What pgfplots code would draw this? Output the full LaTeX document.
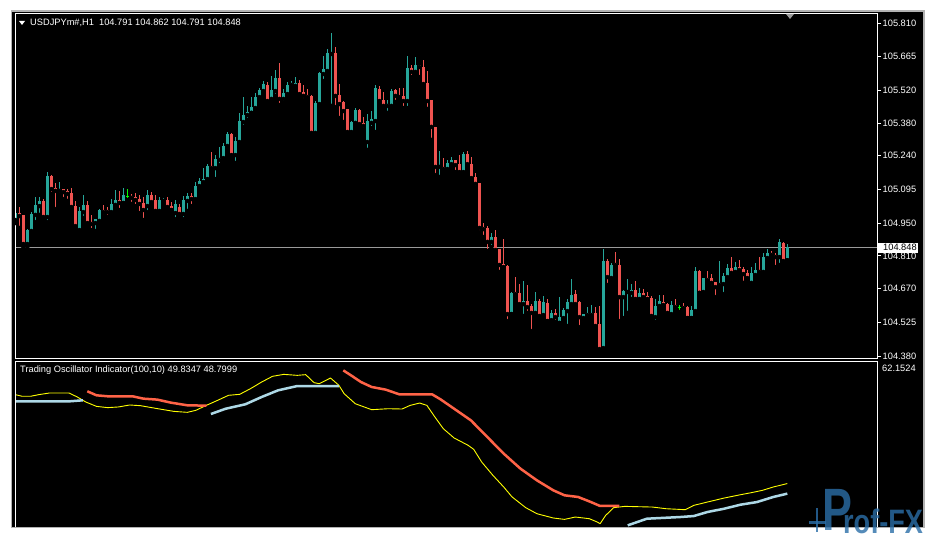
\documentclass[border=0pt]{standalone}
\usepackage{pgfplots}
\pgfplotsset{compat=1.18}
\usepackage{pgfplotstable}
\usepackage{fontspec}
\setmainfont{Liberation Sans}

\definecolor{bull}{HTML}{26A69A}
\definecolor{bear}{HTML}{EF5350}
\definecolor{doji}{HTML}{00FF00}
\definecolor{lvl}{HTML}{9A9A9A}
\definecolor{oscred}{HTML}{FF6347}
\definecolor{oscblue}{HTML}{ADD8E6}
\definecolor{oscyel}{HTML}{FFFF00}
\definecolor{logo}{HTML}{2B6FA8}
\newcommand\tf{\fontsize{9.3}{11}\selectfont}

% candles: i open high low close
\pgfplotstableread{
i o h l c
0 104.964 105.007 104.951 104.994
3 104.861 104.925 104.848 104.921
4 104.917 104.998 104.912 104.990
5 104.986 105.063 104.955 105.029
6 105.024 105.063 104.986 105.046
8 104.977 105.170 104.955 105.152
11 105.089 105.127 105.072 105.097
16 104.921 105.020 104.908 105.003
17 104.998 105.072 104.973 105.029
20 104.951 104.968 104.917 104.968
21 104.960 105.011 104.955 105.007
24 104.998 105.054 104.986 105.033
25 105.029 105.093 105.020 105.050
27 105.037 105.102 105.037 105.072
33 105.024 105.093 104.998 105.072
36 105.003 105.063 104.998 105.050
37 105.046 105.059 105.037 105.050
40 104.994 105.050 104.968 105.033
42 104.990 105.067 104.968 105.050
43 105.046 105.080 105.003 105.067
45 105.054 105.127 105.046 105.110
46 105.110 105.144 105.106 105.132
47 105.127 105.187 105.123 105.140
48 105.140 105.204 105.136 105.196
50 105.187 105.243 105.140 105.226
51 105.222 105.278 105.200 105.230
52 105.230 105.295 105.226 105.282
53 105.282 105.342 105.278 105.334
55 105.243 105.321 105.209 105.303
56 105.299 105.424 105.295 105.389
57 105.385 105.492 105.364 105.415
58 105.415 105.454 105.394 105.428
59 105.424 105.492 105.424 105.449
60 105.445 105.509 105.441 105.492
61 105.492 105.531 105.479 105.522
62 105.518 105.561 105.505 105.548
64 105.484 105.582 105.471 105.522
65 105.518 105.608 105.497 105.574
67 105.484 105.527 105.467 105.509
68 105.505 105.557 105.492 105.544
69 105.544 105.561 105.531 105.552
70 105.540 105.578 105.531 105.552
75 105.338 105.475 105.329 105.467
76 105.462 105.600 105.458 105.595
77 105.591 105.668 105.561 105.613
78 105.604 105.698 105.591 105.681
79 105.677 105.767 105.454 105.681
84 105.342 105.389 105.338 105.385
85 105.381 105.445 105.376 105.436
88 105.299 105.419 105.265 105.389
89 105.381 105.432 105.359 105.398
90 105.389 105.544 105.342 105.531
93 105.454 105.479 105.424 105.462
94 105.454 105.527 105.449 105.518
98 105.475 105.668 105.445 105.617
100 105.600 105.664 105.595 105.630
106 105.192 105.260 105.149 105.196
108 105.183 105.222 105.179 105.209
109 105.204 105.235 105.192 105.222
112 105.170 105.256 105.166 105.247
119 104.870 104.908 104.848 104.891
124 104.560 104.655 104.560 104.651
127 104.603 104.702 104.552 104.616
130 104.565 104.655 104.560 104.616
132 104.556 104.638 104.552 104.612
134 104.534 104.577 104.530 104.565
136 104.522 104.633 104.522 104.547
137 104.543 104.586 104.526 104.577
138 104.573 104.625 104.509 104.612
139 104.603 104.711 104.595 104.642
142 104.543 104.560 104.530 104.560
143 104.556 104.590 104.547 104.565
144 104.556 104.599 104.547 104.565
147 104.414 104.840 104.410 104.788
149 104.715 104.779 104.698 104.771
152 104.633 104.663 104.543 104.659
153 104.655 104.711 104.565 104.659
154 104.651 104.689 104.625 104.663
156 104.625 104.672 104.620 104.651
160 104.547 104.625 104.526 104.595
161 104.595 104.642 104.590 104.616
164 104.560 104.616 104.556 104.599
169 104.543 104.595 104.543 104.577
170 104.573 104.762 104.556 104.745
172 104.655 104.715 104.651 104.715
176 104.685 104.788 104.672 104.694
177 104.689 104.737 104.646 104.724
178 104.719 104.775 104.706 104.758
180 104.741 104.784 104.732 104.762
184 104.694 104.762 104.689 104.737
185 104.728 104.779 104.724 104.749
187 104.741 104.822 104.728 104.805
188 104.801 104.840 104.797 104.822
191 104.805 104.882 104.771 104.870
193 104.791 104.862 104.791 104.848
}\candup

\pgfplotstableread{
i o h l c
1 104.994 105.020 104.930 104.981
2 104.986 104.986 104.848 104.861
7 105.046 105.054 104.968 104.977
9 105.152 105.157 105.076 105.097
10 105.102 105.123 105.011 105.089
12 105.097 105.097 105.054 105.084
13 105.089 105.097 105.046 105.076
14 105.080 105.102 105.016 105.020
15 105.024 105.046 104.921 104.938
18 105.029 105.046 104.947 104.951
19 104.955 104.986 104.921 104.947
22 105.007 105.029 104.981 104.998
23 105.007 105.020 104.977 104.998
26 105.050 105.089 105.007 105.037
29 105.067 105.076 105.033 105.059
30 105.063 105.080 105.024 105.050
31 105.054 105.072 104.994 105.033
32 105.037 105.063 104.964 105.007
34 105.072 105.084 105.029 105.041
35 105.050 105.072 104.998 105.003
38 105.050 105.063 105.016 105.020
39 105.024 105.041 105.007 105.007
41 105.020 105.033 104.977 104.990
44 105.067 105.080 105.024 105.054
49 105.196 105.256 105.179 105.187
54 105.334 105.338 105.235 105.243
63 105.544 105.557 105.471 105.475
66 105.574 105.638 105.458 105.484
71 105.552 105.565 105.501 105.505
72 105.514 105.544 105.479 105.497
73 105.501 105.527 105.479 105.492
74 105.497 105.501 105.334 105.338
80 105.681 105.707 105.449 105.497
81 105.501 105.548 105.402 105.462
82 105.471 105.475 105.385 105.432
83 105.441 105.441 105.338 105.342
86 105.436 105.441 105.364 105.376
87 105.381 105.407 105.351 105.368
91 105.527 105.540 105.471 105.475
92 105.479 105.514 105.449 105.454
95 105.522 105.527 105.471 105.497
96 105.497 105.531 105.484 105.492
97 105.497 105.531 105.445 105.475
99 105.617 105.630 105.578 105.600
101 105.630 105.630 105.578 105.621
102 105.621 105.651 105.540 105.548
103 105.552 105.604 105.441 105.475
104 105.479 105.479 105.308 105.364
105 105.364 105.364 105.157 105.192
107 105.192 105.230 105.179 105.183
110 105.222 105.222 105.170 105.200
111 105.204 105.243 105.166 105.170
113 105.247 105.260 105.200 105.204
114 105.204 105.235 105.136 105.144
115 105.149 105.166 105.102 105.119
116 105.123 105.123 104.912 104.930
117 104.934 104.951 104.891 104.925
118 104.930 104.938 104.831 104.870
120 104.891 104.921 104.831 104.835
121 104.840 104.840 104.741 104.771
122 104.775 104.882 104.754 104.762
123 104.767 104.771 104.530 104.560
125 104.655 104.719 104.633 104.646
126 104.651 104.689 104.599 104.603
128 104.616 104.685 104.565 104.590
129 104.595 104.603 104.487 104.565
131 104.616 104.625 104.543 104.552
133 104.608 104.625 104.530 104.530
135 104.565 104.582 104.526 104.547
140 104.646 104.663 104.599 104.603
141 104.612 104.616 104.504 104.547
145 104.565 104.590 104.496 104.509
146 104.517 104.595 104.401 104.410
148 104.788 104.797 104.685 104.719
150 104.779 104.827 104.758 104.771
151 104.771 104.797 104.530 104.633
155 104.663 104.702 104.620 104.625
157 104.651 104.668 104.625 104.633
158 104.638 104.655 104.620 104.625
159 104.629 104.638 104.547 104.552
162 104.612 104.642 104.590 104.599
163 104.603 104.608 104.560 104.565
165 104.599 104.625 104.573 104.590
167 104.595 104.608 104.577 104.586
168 104.590 104.595 104.543 104.543
171 104.745 104.749 104.651 104.651
173 104.715 104.745 104.689 104.706
174 104.715 104.732 104.676 104.694
175 104.698 104.698 104.633 104.676
179 104.758 104.805 104.728 104.737
181 104.762 104.792 104.737 104.749
182 104.754 104.762 104.694 104.732
183 104.737 104.749 104.711 104.715
186 104.749 104.805 104.737 104.741
189 104.822 104.831 104.801 104.814
190 104.814 104.822 104.762 104.805
192 104.865 104.870 104.784 104.788
}\canddown

\pgfplotstableread{
i o h l c
28 105.067 105.097 105.050 105.067
166 104.590 104.599 104.569 104.590
}\canddoji

% oscillator: i value
\pgfplotstableread{
i v
-0.3 58.95
1.7 58.75
3.8 58.75
5.9 58.92
8.6 59.09
13.4 59.09
15.5 58.68
17.6 58.17
20.3 57.72
23.1 57.59
25.8 57.66
28.6 57.86
31.3 57.79
35.5 57.49
39.6 57.21
43.0 57.11
45.1 57.31
47.8 57.83
50.6 58.34
53.3 58.85
56.1 58.95
58.8 59.53
61.6 60.21
64.3 60.79
67.1 60.99
70.5 60.89
72.6 60.96
74.7 60.14
76.0 60.04
78.8 60.62
80.9 59.87
82.2 59.02
85.0 57.99
89.1 57.38
93.2 57.48
96.7 57.45
98.7 57.82
101.1 58.06
102.9 57.82
104.9 56.63
107.0 55.44
109.7 54.49
113.2 53.74
114.6 53.33
116.6 52.03
119.4 50.67
122.1 49.48
124.2 48.46
127.6 47.37
130.4 46.75
134.5 46.31
137.3 46.17
140.0 46.41
143.5 46.24
145.5 45.90
146.2 45.73
147.6 46.58
149.6 47.37
152.4 47.50
159.3 47.43
162.7 47.26
167.5 47.16
169.6 47.60
173.0 47.94
177.2 48.35
181.3 48.69
184.0 48.90
186.8 49.14
189.5 49.48
193.0 49.83
}\osyel

\pgfplotstableread{
i v
18.0 59.26
20.3 58.85
23.1 58.75
29.3 58.75
32.0 58.51
35.5 58.41
38.9 58.10
43.0 57.83
47.8 57.79
}\osredA

\pgfplotstableread{
i v
82.0 61.40
84.3 60.79
86.4 60.21
89.1 59.70
92.6 59.43
96.0 58.95
104.2 58.95
106.3 58.44
109.7 57.48
113.9 56.29
118.0 54.59
122.1 52.89
126.3 51.35
130.4 50.16
134.5 49.14
137.3 48.63
140.7 48.46
143.5 48.01
146.2 47.54
151.0 47.54
}\osredB

\pgfplotstableread{
i v
-0.3 58.23
13.4 58.23
16.9 58.34
}\osbluA

\pgfplotstableread{
i v
48.9 56.94
52.6 57.48
57.5 57.93
61.6 58.68
65.7 59.36
70.5 59.80
80.9 59.80
}\osbluB

\pgfplotstableread{
i v
153.1 45.56
157.9 46.24
166.2 46.41
169.6 46.51
173.0 46.92
177.2 47.26
181.3 47.67
185.4 47.94
189.5 48.46
193.0 48.80
}\osbluC

\pgfplotsset{
  wick/.style={only marks, mark=none, forget plot,
    error bars/.cd, y dir=plus, y explicit, error mark=none,
    error bar style={line width=1bp, draw=#1}},
  body/.style={only marks, mark=none, forget plot,
    error bars/.cd, y dir=plus, y explicit, error mark=none,
    error bar style={line width=3bp, draw=#1}},
  panel/.style={scale only axis, anchor=south west, width=862bp,
    xmin=-0.075, xmax=215.425, axis on top,
    axis line style={white, line width=1bp}},
}

\begin{document}
\begin{tikzpicture}
\fill[white] (0,0) rectangle (936bp,536bp);
\fill[black] (12bp,9bp) rectangle (923bp,524bp);

% price panel
\begin{axis}[panel, at={(15bp,177bp)}, height=345bp,
  ymin=104.3672, ymax=105.8487,
  xtick=\empty,
  ytick={104.380,104.525,104.670,104.810,104.950,105.095,105.240,105.380,105.520,105.665,105.810},
  ytick pos=right, tick align=outside, major tick length=4bp,
  tick style={white, line width=1bp},
  scaled y ticks=false,
  yticklabel style={text=white, font=\tf, anchor=west, inner sep=1.5bp,
    /pgf/number format/fixed, /pgf/number format/fixed zerofill,
    /pgf/number format/precision=3, /pgf/number format/assume math mode=true},
]
\addplot[lvl, line width=1bp, forget plot] coordinates {(-1,104.848) (216,104.848)};
\addplot[wick=bull] table[x=i, y=l, y error expr=\thisrow{h}-\thisrow{l}] {\candup};
\addplot[body=bull] table[x=i, y=o, y error expr=\thisrow{c}-\thisrow{o}] {\candup};
\addplot[wick=bear] table[x=i, y=l, y error expr=\thisrow{h}-\thisrow{l}] {\canddown};
\addplot[body=bear] table[x=i, y=c, y error expr=\thisrow{o}-\thisrow{c}] {\canddown};
\addplot[wick=doji] table[x=i, y=l, y error expr=\thisrow{h}-\thisrow{l}] {\canddoji};
\addplot[only marks, mark=-, mark size=1.5bp, doji, mark options={line width=1bp}] table[x=i, y=o] {\canddoji};
\end{axis}

% oscillator panel
\begin{axis}[panel, at={(15bp,-9bp)}, height=183bp,
  ymin=43.552, ymax=62.2546, ticks=none]
\addplot[oscyel, line width=0.9bp, line join=round] table[x=i, y=v] {\osyel};
\addplot[oscred, line width=2.5bp, line join=round] table[x=i, y=v] {\osredA};
\addplot[oscred, line width=2.5bp, line join=round] table[x=i, y=v] {\osredB};
\addplot[oscblue, line width=2.5bp, line join=round] table[x=i, y=v] {\osbluA};
\addplot[oscblue, line width=2.5bp, line join=round] table[x=i, y=v] {\osbluB};
\addplot[oscblue, line width=2.5bp, line join=round] table[x=i, y=v] {\osbluC};
\end{axis}

% headers and labels
\fill[white] (19bp,515bp) -- (25bp,515bp) -- (22bp,511bp) -- cycle;
\node[anchor=base west, inner sep=0, text=white, font=\tf] at (30bp,510bp)
  {USDJPYm\#,H1\ \ 104.791 104.862 104.791 104.848};
\fill[lvl] (786bp,522bp) -- (794bp,522bp) -- (790bp,517bp) -- cycle;
\fill[white] (877bp,283bp) rectangle (918bp,293bp);
\node[anchor=base west, inner sep=0, text=black, font=\tf] at (883bp,285bp) {104.848};
\node[anchor=base west, inner sep=0, text=white, font=\tf] at (20bp,163bp)
  {Trading Oscillator Indicator(100,10) 49.8347 48.7999};
\node[anchor=base west, inner sep=0, text=white, font=\tf] at (882bp,164bp) {62.1524};

% window edge
\fill[white] (0,0) rectangle (936bp,8bp);
\draw[gray!60, line width=1.5bp] (11.25bp,8.25bp) rectangle (923.75bp,524.75bp);

% logo
\begin{scope}[opacity=0.8]
\draw[logo, line width=1.5bp] (817bp,4bp) -- (817bp,28bp);
\draw[logo, line width=3bp] (809bp,13bp) -- (826bp,13bp);
\node[anchor=base west, inner sep=0, text=logo, font=\fontsize{60}{60}\bfseries\selectfont, xscale=0.75] at (822bp,6bp) {P};
\node[anchor=base west, inner sep=0, text=logo, font=\fontsize{34}{34}\bfseries\selectfont, xscale=0.8] at (843bp,3bp) {rof-FX};
\end{scope}

\pgfresetboundingbox
\useasboundingbox (0,0) rectangle (936bp,536bp);
\end{tikzpicture}
\end{document}
